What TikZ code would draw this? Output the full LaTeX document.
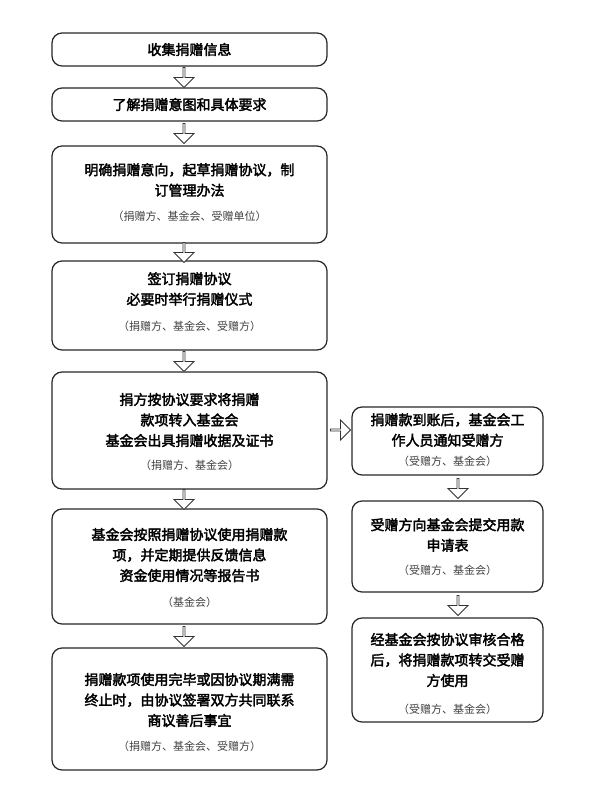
\documentclass[tikz,border=0pt]{standalone}
\usepackage{fontspec}
\newfontfamily\cjk[AutoFakeBold=2.5]{Noto Sans CJK SC}
\usetikzlibrary{shapes.arrows}
\begin{document}
\begin{tikzpicture}[x=1pt,y=-1pt,
 box/.style={draw=black!85,line width=1.2pt,rounded corners=10pt},
 tx/.style={align=center,font=\cjk\bfseries\fontsize{14}{20.5}\selectfont},
 sub/.style={font=\cjk\fontsize{11}{13}\selectfont,text=black!75},
 darr/.style={draw=black!80,line width=0.9pt,fill=white,single arrow,single arrow head extend=4pt,minimum height=20pt,minimum width=20pt,inner sep=0pt,shape border rotate=270},
 rarr/.style={darr,shape border rotate=0}]
\useasboundingbox (0,0) rectangle (604,800);
\draw[box] (52,33) rectangle (327,66); \node[tx] (b1) at (189.5,49.5) {收集捐赠信息};
\draw[box] (52,88) rectangle (327,121); \node[tx] (b2) at (189.5,104.5) {了解捐赠意图和具体要求};
\draw[box] (52,146) rectangle (327,243);
\node[tx] (b3) at (189.5,180) {明确捐赠意向，起草捐赠协议，制\\订管理办法};
\node[sub] (s3) at (189.5,216) {（捐赠方、基金会、受赠单位）};
\draw[box] (52,261) rectangle (327,350);
\node[tx] (b4) at (189.5,289) {签订捐赠协议\\必要时举行捐赠仪式};
\node[sub] (s4) at (189.5,326) {（捐赠方、基金会、受赠方）};
\draw[box] (52,372) rectangle (327,489);
\node[tx] (b5) at (189.5,420) {捐方按协议要求将捐赠\\款项转入基金会\\基金会出具捐赠收据及证书};
\node[sub] (s5) at (189.5,465) {（捐赠方、基金会）};
\draw[box] (52,509) rectangle (327,624);
\node[tx] (b6) at (189.5,555) {基金会按照捐赠协议使用捐赠款\\项，并定期提供反馈信息\\资金使用情况等报告书};
\node[sub] (s6) at (189.5,602) {（基金会）};
\draw[box] (52,648) rectangle (327,770);
\node[tx] (b7) at (189.5,700) {捐赠款项使用完毕或因协议期满需\\终止时，由协议签署双方共同联系\\商议善后事宜};
\node[sub] (s7) at (189.5,746) {（捐赠方、基金会、受赠方）};
\draw[box] (352,407) rectangle (543,475);
\node[tx] (r1) at (447.5,430) {捐赠款到账后，基金会工\\作人员通知受赠方};
\node[sub] (t1) at (447.5,461) {（受赠方、基金会）};
\draw[box] (352,501) rectangle (543,592);
\node[tx] (r2) at (447.5,535) {受赠方向基金会提交用款\\申请表};
\node[sub] (t2) at (447.5,570) {（受赠方、基金会）};
\draw[box] (352,618) rectangle (543,722);
\node[tx] (r3) at (447.5,660) {经基金会按协议审核合格\\后，将捐赠款项转交受赠\\方使用};
\node[sub] (t3) at (447.5,709) {（受赠方、基金会）};
\foreach \y in {77,133,252,361,499,636} \node[darr] at (184,\y) {};
\foreach \y in {488,605} \node[darr] at (458,\y) {};
\node[rarr] at (340,430) {};
\end{tikzpicture}
\end{document}
